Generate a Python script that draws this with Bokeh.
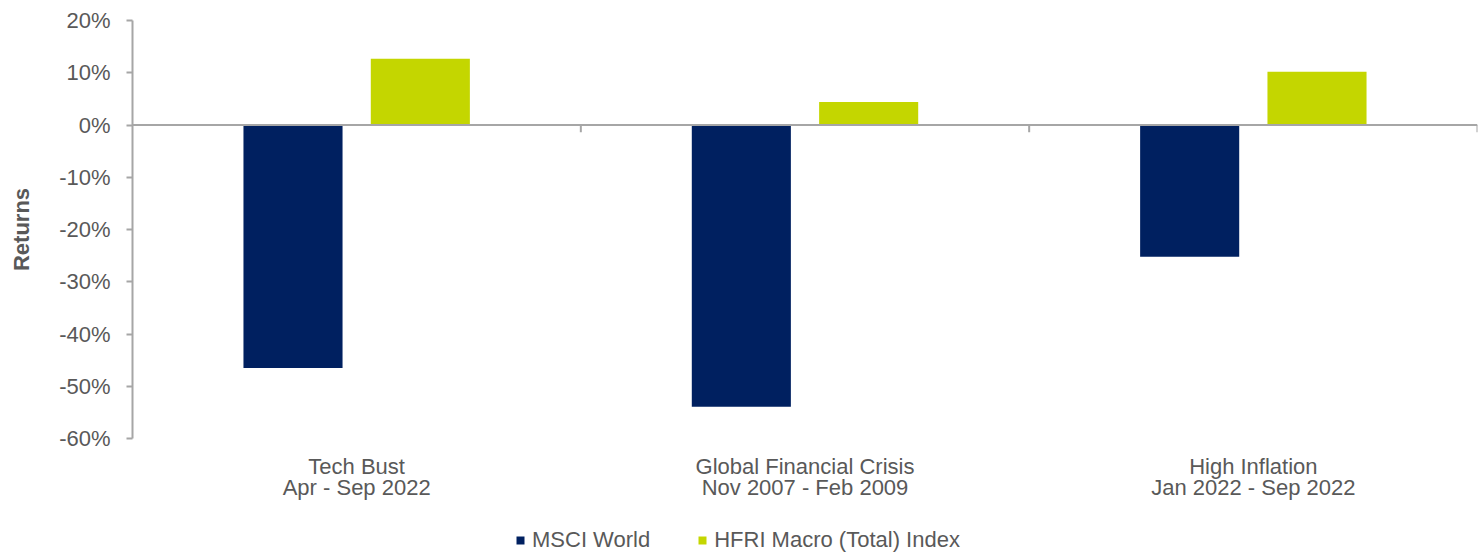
from bokeh.plotting import figure
from bokeh.layouts import column
from bokeh.models import (ColumnDataSource, Range1d, FixedTicker, PrintfTickFormatter,
                          Legend, LegendItem, Span)
from bokeh.transform import dodge
from bokeh.embed import file_html
from bokeh.resources import INLINE

categories = ["Tech Bust\nApr - Sep 2022",
              "Global Financial Crisis\nNov 2007 - Feb 2009",
              "High Inflation\nJan 2022 - Sep 2022"]
msci_world = [-46.5, -53.9, -25.2]
hfri_macro = [12.7, 4.4, 10.2]
y_ticks = [-60, -50, -40, -30, -20, -10, 0, 10, 20]
series_names = ["MSCI World", "HFRI Macro (Total) Index"]

NAVY = "#002060"
LIME = "#C4D600"
GRAY = "#A6A6A6"
TEXT = "#595959"
FONT = "Liberation Sans"
FS = "22px"

xc = [i + 0.5 for i in range(len(categories))]
src = ColumnDataSource(dict(x=xc, msci=msci_world, hfri=hfri_macro))

p = figure(frame_width=1345, frame_height=418,
           x_range=Range1d(0, len(categories)), y_range=Range1d(-60, 20),
           output_backend="svg", toolbar_location=None,
           min_border_left=132, min_border_right=3, min_border_top=20,
           min_border_bottom=70)
p.outline_line_color = None
p.grid.visible = False
p.background_fill_color = "white"

p.vbar(x=dodge("x", -0.142, range=p.x_range), top="msci", bottom=0, width=0.221,
       source=src, fill_color=NAVY, line_color=None)
p.vbar(x=dodge("x", 0.142, range=p.x_range), top="hfri", bottom=0, width=0.221,
       source=src, fill_color=LIME, line_color=None)

# zero line with category separator ticks
p.add_layout(Span(location=0, dimension="width", line_color=GRAY, line_width=2))
bx = list(range(1, len(categories) + 1))
p.segment(x0=bx, x1=bx, y0=[0] * len(bx), y1=[-1.4] * len(bx), line_color=GRAY, line_width=2)

# y axis
ya = p.yaxis[0]
ya.ticker = FixedTicker(ticks=y_ticks)
ya.formatter = PrintfTickFormatter(format="%d%%")
ya.axis_line_color = GRAY
ya.axis_line_width = 2
ya.major_tick_line_color = GRAY
ya.major_tick_line_width = 2
ya.major_tick_out = 6
ya.major_tick_in = 0
ya.minor_tick_line_color = None
ya.major_label_text_font = FONT
ya.major_label_text_font_size = FS
ya.major_label_text_color = TEXT
ya.major_label_standoff = 16
ya.axis_label = "Returns"
ya.axis_label_text_font = FONT
ya.axis_label_text_font_size = FS
ya.axis_label_text_font_style = "bold"
ya.axis_label_text_color = TEXT
ya.axis_label_standoff = 22

# x axis (category labels)
xa = p.xaxis[0]
xa.ticker = FixedTicker(ticks=xc)
xa.major_label_overrides = {x: c for x, c in zip(xc, categories)}
xa.axis_line_color = None
xa.major_tick_line_color = None
xa.minor_tick_line_color = None
xa.major_label_text_font = FONT
xa.major_label_text_font_size = FS
xa.major_label_text_color = TEXT
xa.major_label_text_line_height = 0.85
xa.major_label_standoff = 9

# legend strip (its bars sit outside the strip's range, so only the legend shows)
p2 = figure(frame_width=1345, height=45, x_range=Range1d(0, len(categories)),
            y_range=Range1d(100, 101),
            output_backend="svg", toolbar_location=None,
            min_border_left=132, min_border_right=3, min_border_top=0, min_border_bottom=0)
p2.axis.visible = False
p2.grid.visible = False
p2.outline_line_color = None
l1 = p2.vbar(x="x", top="msci", bottom=0, width=0.2, source=src,
             fill_color=NAVY, line_color=None)
l2 = p2.vbar(x="x", top="hfri", bottom=0, width=0.2, source=src,
             fill_color=LIME, line_color=None)
legend = Legend(items=[LegendItem(label=series_names[0], renderers=[l1]),
                       LegendItem(label=series_names[1], renderers=[l2])],
                orientation="horizontal", location=(383, 0),
                glyph_width=10, glyph_height=10, label_standoff=7, spacing=47,
                label_text_font=FONT, label_text_font_size=FS, label_text_color=TEXT,
                border_line_color=None, background_fill_alpha=0, padding=0, margin=0,
                label_height=22)
p2.add_layout(legend, "center")

layout = column(p, p2, spacing=0)
open("out.html", "w").write(file_html(layout, INLINE))
